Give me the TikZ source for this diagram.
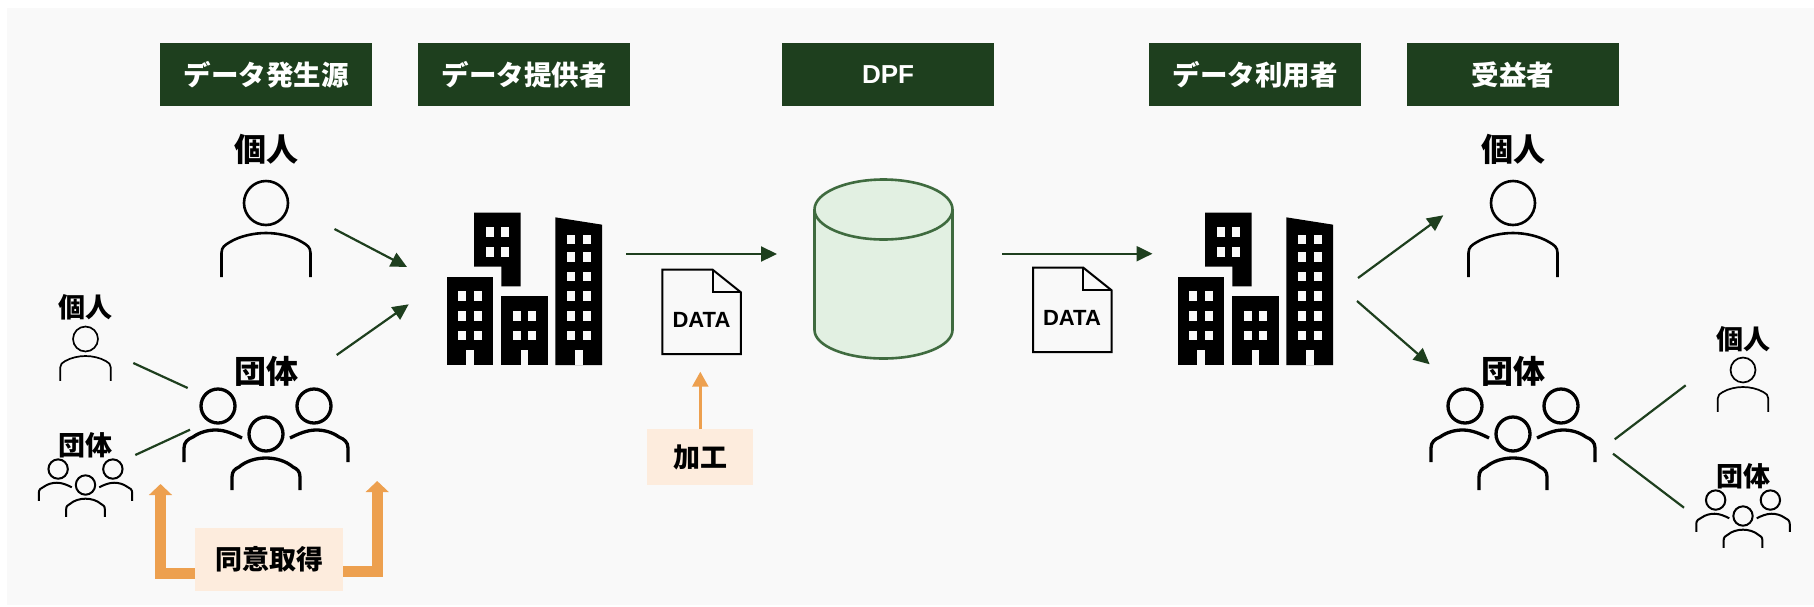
\documentclass[tikz,border=0pt]{standalone}
\usepackage{fontspec}
\newfontfamily\jp{Noto Sans CJK JP}
\newfontfamily\lat{Liberation Sans}
\usetikzlibrary{arrows.meta}
\definecolor{pagebg}{HTML}{F9F9F9}
\definecolor{hdrgreen}{HTML}{1E3F1E}
\definecolor{cylline}{HTML}{3F6B3F}
\definecolor{cylfill}{HTML}{E2F0E2}
\definecolor{orangeline}{HTML}{EDA04F}
\definecolor{orangebox}{HTML}{FDECDD}
\tikzset{
  hdr/.style={fill=hdrgreen,text=white,minimum width=212,minimum height=63,inner sep=0,outer sep=0,font=\jp\bfseries\fontsize{27.5}{27.5}\selectfont},
  lblbig/.style={inner sep=0,text=black,font=\jp\bfseries\fontsize{32}{32}\selectfont},
  lblsmall/.style={inner sep=0,text=black,font=\jp\bfseries\fontsize{27}{27}\selectfont},
  orangelbl/.style={fill=orangebox,inner sep=0,outer sep=0,text=black,font=\jp\bfseries\fontsize{27}{27}\selectfont},
  datalbl/.style={inner sep=0,text=black,font=\lat\bfseries\fontsize{22}{22}\selectfont},
  flow/.style={draw=hdrgreen,line width=2.2,-{Triangle[length=16,width=15]}},
  tie/.style={draw=hdrgreen,line width=2.2},
  thin orange/.style={draw=orangeline,line width=2.5,-{Triangle[length=15,width=16]}},
  thick orange/.style={draw=orangeline,line width=11,line join=miter,-{Triangle[length=11,width=22.5]}},
}
\newcommand{\personicon}[4]{%
  \begin{scope}[shift={(#1,#2)},scale=#3,line width=#4,draw=black]
    \draw (0,0) circle (22);
    \draw (-44.5,74) -- (-44.5,50) .. controls (-44.5,44) and (-41,42) .. (-36,39)
      .. controls (-26,33) and (-12,30) .. (0,30)
      .. controls (12,30) and (26,33) .. (36,39)
      .. controls (41,42) and (44.5,44) .. (44.5,50) -- (44.5,74);
  \end{scope}}
\newcommand{\groupicon}[4]{%
  \begin{scope}[shift={(#1,#2)},scale=#3,line width=#4,draw=black]
    \draw (0,0) circle (17);
    \draw (-48,-28) circle (17);
    \draw (48,-28) circle (17);
    \draw (-34,56) -- (-34,43) .. controls (-34,37) and (-31,35) .. (-27,33)
      .. controls (-20,27) and (-10,24) .. (0,24)
      .. controls (10,24) and (20,27) .. (27,33)
      .. controls (31,35) and (34,37) .. (34,43) -- (34,56);
    \draw (-82,28) -- (-82,14) .. controls (-82,8) and (-78,5) .. (-73,3)
      .. controls (-66,-2) and (-58,-4) .. (-50,-4)
      .. controls (-41,-4) and (-32,0) .. (-24,4);
    \draw (82,28) -- (82,14) .. controls (82,8) and (78,5) .. (73,3)
      .. controls (66,-2) and (58,-4) .. (50,-4)
      .. controls (41,-4) and (32,0) .. (24,4);
  \end{scope}}
\newcommand{\winrow}[3]{% left x, right x, top y
  \fill[pagebg] (#1,#3) rectangle ++(24,29);
  \fill[pagebg] (#2,#3) rectangle ++(24,29);}
\newcommand{\buildingicon}[1]{%
  \begin{scope}[shift={(#1,190)},scale=1/3]
    \fill[black] (162,68) -- (302,68) -- (302,289) -- (244,289) -- (244,230) -- (162,230) -- cycle;
    \winrow{197}{244}{112}\winrow{197}{244}{171}
    \fill[black] (81,260) rectangle (220,525);
    \winrow{115}{162}{304}\winrow{115}{162}{363}\winrow{115}{162}{422}
    \fill[pagebg] (139,480) rectangle (162,526);
    \fill[black] (244,319) rectangle (383,525);
    \winrow{278}{325}{363}\winrow{278}{325}{422}
    \fill[pagebg] (302,480) rectangle (325,526);
    \fill[black] (406,82) -- (546,104) -- (546,525) -- (406,525) -- cycle;
    \winrow{441}{488}{134}\winrow{441}{488}{186}\winrow{441}{488}{245}
    \winrow{441}{488}{304}\winrow{441}{488}{363}\winrow{441}{488}{422}
    \fill[pagebg] (465,480) rectangle (488,526);
  \end{scope}}
\newcommand{\docicon}[2]{%
  \begin{scope}[shift={(#1,#2)},scale=1/3,line width=2,draw=black,line join=miter]
    \draw (0,0) -- (151,0) -- (236,68) -- (236,253) -- (0,253) -- cycle;
    \draw (151,0) -- (151,68) -- (236,68);
  \end{scope}}
\begin{document}
\begin{tikzpicture}[x=1pt,y=-1pt]
\useasboundingbox (0,0) rectangle (1814,606);
\fill[white] (0,0) rectangle (1814,606);
\fill[pagebg] (7,8) rectangle (1814,605);
% headers
\node[hdr] (h1) at (266,74.5) {データ発生源};
\node[hdr] (h2) at (524,74.5) {データ提供者};
\node[hdr,font=\lat\bfseries\fontsize{26}{26}\selectfont] (h3) at (888,74.5) {DPF};
\node[hdr] (h4) at (1255,74.5) {データ利用者};
\node[hdr] (h5) at (1513,74.5) {受益者};
% labels
\node[lblbig] (lp1) at (266,149) {個人};
\node[lblbig] (lg1) at (266.5,371) {団体};
\node[lblsmall] (lp2) at (85,307.5) {個人};
\node[lblsmall] (lg2) at (85,445.5) {団体};
\node[lblbig] (lp3) at (1513,149) {個人};
\node[lblbig] (lg3) at (1513,371) {団体};
\node[lblsmall] (lp4) at (1743,339.5) {個人};
\node[lblsmall] (lg4) at (1743,476.5) {団体};
% icons
\personicon{266}{203}{1}{2.6}
\personicon{1513}{203}{1}{2.6}
\personicon{85.5}{339}{0.567}{1.7}
\personicon{1743}{370}{0.567}{1.7}
\groupicon{266}{434}{1}{3.3}
\groupicon{1513}{434}{1}{3.3}
\groupicon{85.5}{485}{0.57}{2}
\groupicon{1743}{516}{0.57}{2}
\buildingicon{420}
\buildingicon{1151}
\docicon{662.3}{269.7}
\docicon{1033}{267.7}
\node[datalbl] (d1) at (701.5,320) {DATA};
\node[datalbl] (d2) at (1072,317.5) {DATA};
% cylinder
\draw[draw=cylline,fill=cylfill,line width=2.6] (814.5,209.5) -- (814.5,330)
  arc[start angle=180,end angle=360,x radius=69,y radius=-28.5] -- (952.5,209.5)
  arc[start angle=0,end angle=180,x radius=69,y radius=-30];
\draw[draw=cylline,line width=2.6] (814.5,209.5) arc[start angle=180,end angle=360,x radius=69,y radius=-30];
% orange boxes
\node[orangelbl,minimum width=148,minimum height=62.5] (consent) at (269,559.5) {同意取得};
\node[orangelbl,minimum width=106,minimum height=56] (proc) at (700,457) {加工};
% connector ends
\coordinate (a1s) at (334.5,229); \coordinate (a1e) at (407,267);
\coordinate (a2s) at (336.7,355); \coordinate (a2e) at (408.7,304.3);
\coordinate (a3s) at (626,254); \coordinate (a3e) at (777,254);
\coordinate (a4s) at (1002,253.7); \coordinate (a4e) at (1152.5,253.7);
\coordinate (a5s) at (1358,278); \coordinate (a5e) at (1443.3,215.3);
\coordinate (a6s) at (1357,301); \coordinate (a6e) at (1429.7,364.3);
\coordinate (t1s) at (133.3,363); \coordinate (t1e) at (187.7,388);
\coordinate (t2s) at (135.3,455); \coordinate (t2e) at (190,429.7);
\coordinate (t3s) at (1614.7,439.3); \coordinate (t3e) at (1685.7,385.3);
\coordinate (t4s) at (1613,453.7); \coordinate (t4e) at (1684,507.7);
\coordinate (o1) at (160.5,484); \coordinate (o1b) at (195,573.7);
\coordinate (o2) at (377.2,481); \coordinate (o2b) at (343,571.3);
\coordinate (o3) at (700.3,371.7);
% connectors
\draw[flow] (a1s) -- (a1e);
\draw[flow] (a2s) -- (a2e);
\draw[flow] (a3s) -- (a3e);
\draw[flow] (a4s) -- (a4e);
\draw[flow] (a5s) -- (a5e);
\draw[flow] (a6s) -- (a6e);
\draw[tie] (t1s) -- (t1e);
\draw[tie] (t2s) -- (t2e);
\draw[tie] (t3s) -- (t3e);
\draw[tie] (t4s) -- (t4e);
\draw[thick orange] (o1b) -| (o1);
\draw[thick orange] (o2b) -| (o2);
\draw[thin orange] (proc.north -| o3) -- (o3);
\end{tikzpicture}
\end{document}
